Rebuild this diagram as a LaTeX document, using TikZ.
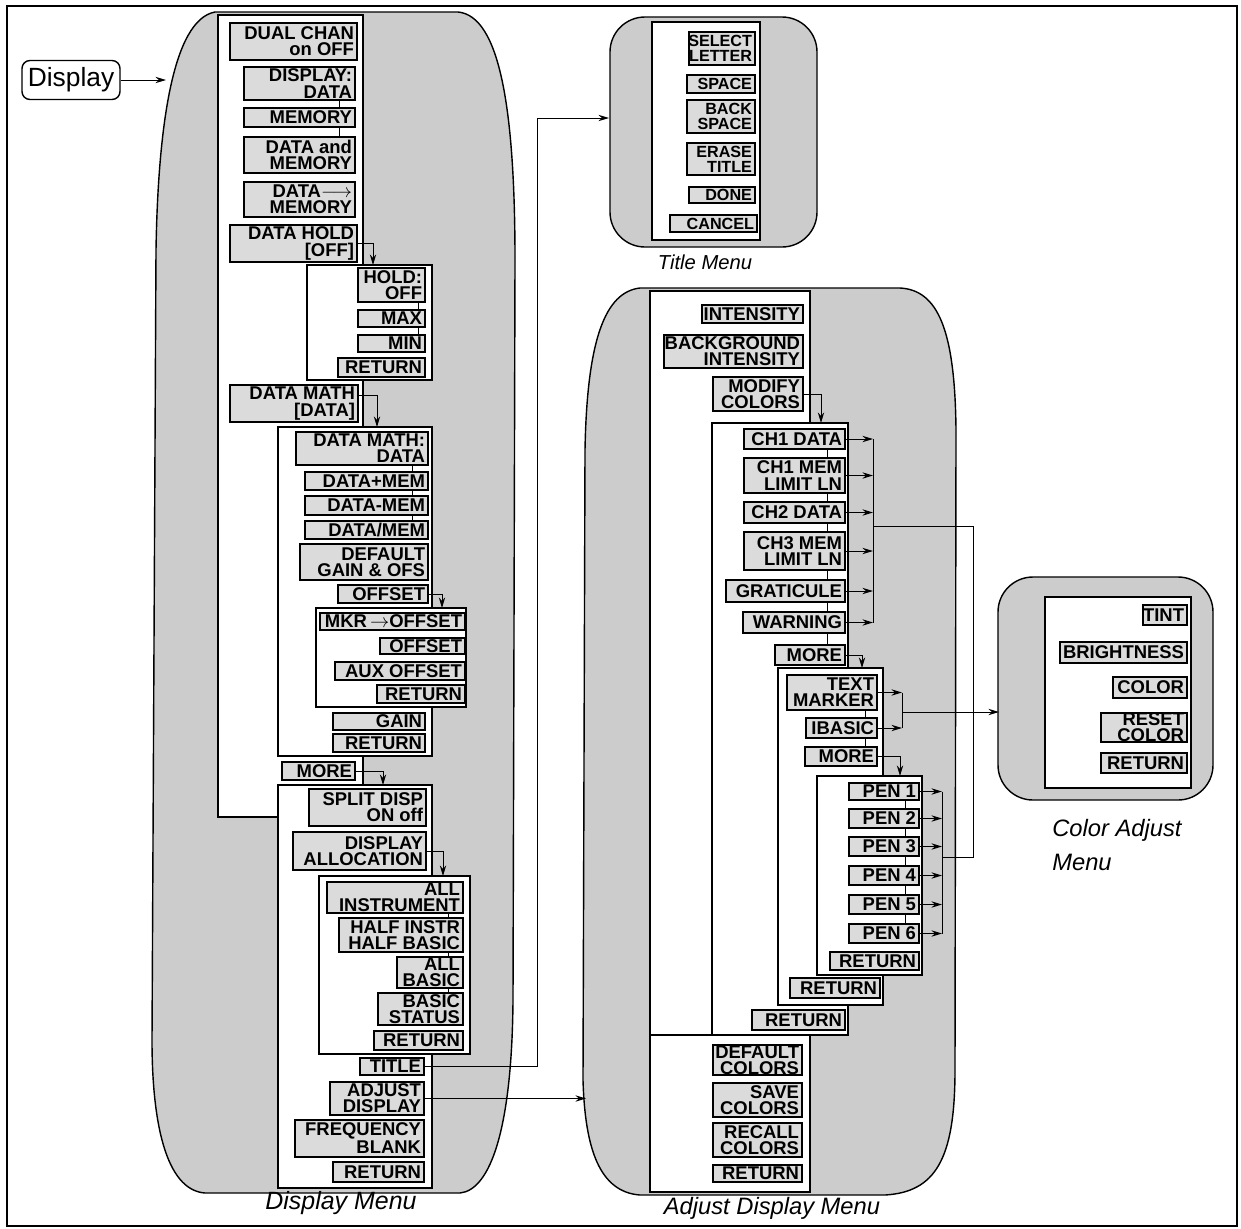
\documentclass[tikz,border=0pt]{standalone}
\usepackage{fontspec}
\setmainfont{Liberation Sans}
\usetikzlibrary{arrows.meta}
\definecolor{blobgray}{gray}{0.8}
\definecolor{boxgray}{gray}{0.86}
\tikzset{
  blob/.style={draw, fill=blobgray, line width=0.8pt},
  panel/.style={draw, fill=white, line width=0.6pt},
  btnbox/.style={draw, fill=boxgray, line width=0.9pt, inner sep=0pt, outer sep=0pt},
  btntext/.style={anchor=east, align=right, inner sep=1.5pt, font=\fontsize{10.5}{9.2}\selectfont\bfseries},
  conn/.style={line width=0.55pt},
  arr/.style={conn, -{Stealth[length=6pt,width=3.6pt]}},
  link/.style={line width=0.4pt},
  menulabel/.style={font=\fontsize{13.5}{14}\selectfont\itshape, inner sep=0pt},
}
\newcommand\mybtn[6]{%
  \node[btnbox, minimum width={(#4-#2)*0.02cm}, minimum height={(#5-#3)*0.02cm}] (#1) at ({(#2+#4)/2},{(#3+#5)/2}) {};
  \node[btntext] (#1t) at (#1.east) {#6};%
}
\begin{document}
\begin{tikzpicture}[x={(0.02cm,0)}, y={(0,-0.02cm)}]
\useasboundingbox (0,0) rectangle (1241,1228);
\draw[line width=0.6pt] (7,6) rectangle (1237,1226);

% ---------- blobs ----------
\path[blob] (215,12) -- (458,12) .. controls (500,16) and (515,110) .. (515,260)
  -- (513,1000) .. controls (512,1130) and (490,1190) .. (460,1193)
  -- (205,1193) .. controls (165,1190) and (152,1120) .. (152,1040)
  -- (156,250) .. controls (158,130) and (172,20) .. (215,12) -- cycle;
\path[blob] (640,288) -- (900,288) .. controls (938,290) and (955,330) .. (956,430)
  -- (955,1070) .. controls (955,1160) and (935,1192) .. (885,1195)
  -- (640,1195) .. controls (600,1192) and (585,1150) .. (583,1080)
  -- (585,450) .. controls (587,340) and (605,292) .. (640,288) -- cycle;
\node[blob, rounded corners=0.7cm, minimum width={207*0.02cm}, minimum height={230*0.02cm}, inner sep=0pt] (tblob) at (713.5,132) {};
\node[blob, rounded corners=0.7cm, minimum width={215*0.02cm}, minimum height={223*0.02cm}, inner sep=0pt] (cblob) at (1105.5,688.5) {};

% ---------- panels ----------
\draw[panel] (218,15) rectangle (363,817);
\draw[panel] (307,265) rectangle (432,380);
\draw[panel] (278,427) rectangle (432,756);
\draw[panel] (316,608) rectangle (466,707);
\draw[panel] (278,785) rectangle (432,1188);
\draw[panel] (319,876) rectangle (470,1054);
\draw[panel] (652,22) rectangle (760,240);
\draw[panel] (650,291) rectangle (810,1192);
\draw[panel] (712,423) rectangle (848,1035);
\draw[panel] (778,668) rectangle (883,1005);
\draw[panel] (817,776) rectangle (922,975);
\draw[panel] (1045,597) rectangle (1191,788);
\coordinate (pl) at (650,1035);
\coordinate (pr) at (712,1035);
\draw[line width=0.6pt] (pl) -- (pr);

% ---------- Display button ----------
\node[draw, fill=white, rounded corners=0.16cm, line width=0.8pt, minimum width={98*0.02cm}, minimum height={39*0.02cm}, inner sep=0pt, font=\fontsize{15}{15}\selectfont] (dispbtn) at (71,80) {Display};

% ---------- link line x positions ----------
\coordinate (l1) at (339,0);
\coordinate (l2) at (418,0);
\coordinate (l3) at (412,0);
\coordinate (l4) at (448,0);
\coordinate (l5) at (827,0);
\coordinate (l6) at (865,0);
\coordinate (l7) at (905,0);

% ---------- Display menu buttons ----------
\mybtn{dual}{230}{23}{357}{60}{DUAL CHAN\\on OFF}
\mybtn{dispdata}{244}{67}{355}{100}{DISPLAY:\\DATA}
\mybtn{memory}{244}{108}{355}{127}{MEMORY}
\mybtn{dandm}{244}{137}{355}{173}{DATA and\\MEMORY}
\mybtn{dtom}{244}{182}{355}{217}{DATA$\longrightarrow$\\MEMORY}
\mybtn{hold}{230}{225}{357}{262}{DATA HOLD\\{[OFF]}}
\mybtn{holdoff}{358}{268}{425}{302}{HOLD:\\OFF}
\mybtn{max}{358}{310}{425}{327}{MAX}
\mybtn{min}{358}{335}{425}{352}{MIN}
\mybtn{hret}{338}{358}{425}{377}{RETURN}
\mybtn{dmath}{230}{385}{358}{422}{DATA MATH\\{[DATA]}}
\mybtn{dmdata}{296}{432}{428}{465}{DATA MATH:\\DATA}
\mybtn{dpm}{305}{472}{428}{490}{DATA+MEM}
\mybtn{dmm}{305}{496}{428}{515}{DATA-MEM}
\mybtn{ddm}{305}{521}{428}{539}{DATA/MEM}
\mybtn{defgain}{300}{544}{428}{580}{DEFAULT\\GAIN \& OFS}
\mybtn{offset}{338}{585}{428}{603}{OFFSET}
\mybtn{mkroff}{320}{613}{465}{630}{MKR\,$\rightarrow$OFFSET}
\mybtn{offtwo}{380}{638}{465}{654}{OFFSET}
\mybtn{auxoff}{335}{662}{465}{680}{AUX OFFSET}
\mybtn{oret}{377}{685}{465}{703}{RETURN}
\mybtn{gain}{333}{713}{425}{730}{GAIN}
\mybtn{dmret}{333}{734}{425}{752}{RETURN}
\mybtn{moreone}{282}{762}{355}{780}{MORE}
\mybtn{split}{309}{789}{426}{826}{SPLIT DISP\\ON off}
\mybtn{alloc}{293}{832}{426}{870}{DISPLAY\\ALLOCATION}
\mybtn{allinst}{327}{882}{463}{913}{ALL\\INSTRUMENT}
\mybtn{half}{339}{918}{463}{952}{HALF INSTR\\HALF BASIC}
\mybtn{allbasic}{397}{957}{463}{988}{ALL\\BASIC}
\mybtn{bstatus}{378}{993}{463}{1025}{BASIC\\STATUS}
\mybtn{aret}{374}{1031}{463}{1050}{RETURN}
\mybtn{title}{360}{1058}{424}{1075}{TITLE}
\mybtn{adjust}{330}{1082}{424}{1115}{ADJUST\\DISPLAY}
\mybtn{freq}{295}{1120}{424}{1157}{FREQUENCY\\BLANK}
\mybtn{dret}{333}{1162}{424}{1182}{RETURN}

% ---------- Title menu buttons ----------
\begin{scope}[btntext/.append style={font=\fontsize{9.2}{8.4}\selectfont\bfseries}]
\mybtn{sellet}{689}{32}{755}{65}{SELECT\\LETTER}
\mybtn{space}{687}{75}{755}{93}{SPACE}
\mybtn{bspace}{687}{100}{755}{133}{BACK\\SPACE}
\mybtn{erase}{687}{143}{755}{175}{ERASE\\TITLE}
\mybtn{done}{689}{187}{755}{203}{DONE}
\mybtn{cancel}{670}{215}{757}{232}{CANCEL}
\end{scope}

% ---------- Adjust display buttons ----------
\mybtn{intens}{702}{305}{803}{323}{INTENSITY}
\mybtn{bgint}{664}{335}{803}{368}{BACKGROUND\\INTENSITY}
\mybtn{modify}{713}{377}{803}{411}{MODIFY\\COLORS}
\mybtn{cha}{744}{429}{845}{449}{CH1 DATA}
\mybtn{cham}{744}{458}{845}{493}{CH1 MEM\\LIMIT LN}
\mybtn{chb}{744}{502}{845}{523}{CH2 DATA}
\mybtn{chcm}{744}{532}{845}{570}{CH3 MEM\\LIMIT LN}
\mybtn{grat}{726}{580}{845}{602}{GRATICULE}
\mybtn{warn}{743}{612}{845}{633}{WARNING}
\mybtn{amore}{775}{645}{845}{665}{MORE}
\mybtn{tm}{787}{675}{877}{710}{TEXT\\MARKER}
\mybtn{ibasic}{806}{718}{877}{738}{IBASIC}
\mybtn{tmmore}{805}{747}{877}{766}{MORE}
\mybtn{pena}{849}{783}{919}{800}{PEN 1}
\mybtn{penb}{849}{809}{919}{828}{PEN 2}
\mybtn{penc}{849}{837}{919}{856}{PEN 3}
\mybtn{pend}{849}{866}{919}{885}{PEN 4}
\mybtn{pene}{849}{895}{919}{914}{PEN 5}
\mybtn{penf}{849}{924}{919}{943}{PEN 6}
\mybtn{pret}{830}{952}{919}{970}{RETURN}
\mybtn{tmret}{790}{978}{880}{998}{RETURN}
\mybtn{mret}{752}{1010}{845}{1030}{RETURN}
\mybtn{defcol}{713}{1045}{802}{1075}{DEFAULT\\COLORS}
\mybtn{savecol}{713}{1083}{802}{1117}{SAVE\\COLORS}
\mybtn{reccol}{713}{1123}{802}{1157}{RECALL\\COLORS}
\mybtn{adret}{713}{1165}{802}{1182}{RETURN}

% ---------- Color adjust buttons ----------
\mybtn{tint}{1143}{605}{1187}{625}{TINT}
\mybtn{bright}{1060}{642}{1187}{663}{BRIGHTNESS}
\mybtn{color}{1113}{677}{1187}{698}{COLOR}
\mybtn{reset}{1101}{713}{1187}{742}{RESET\\COLOR}
\mybtn{cret}{1101}{753}{1187}{773}{RETURN}

% ---------- link lines between grouped buttons ----------
\draw[link] (dispdata.south -| l1) -- (memory.north -| l1);
\draw[link] (memory.south -| l1) -- (dandm.north -| l1);
\draw[link] (holdoff.south -| l2) -- (max.north -| l2);
\draw[link] (max.south -| l2) -- (min.north -| l2);
\draw[link] (dmdata.south -| l3) -- (dpm.north -| l3);
\draw[link] (dpm.south -| l3) -- (dmm.north -| l3);
\draw[link] (dmm.south -| l3) -- (ddm.north -| l3);
\draw[link] (allinst.south -| l4) -- (half.north -| l4);
\draw[link] (half.south -| l4) -- (allbasic.north -| l4);
\draw[link] (allbasic.south -| l4) -- (bstatus.north -| l4);
\draw[link] (cha.south -| l5) -- (cham.north -| l5);
\draw[link] (cham.south -| l5) -- (chb.north -| l5);
\draw[link] (chb.south -| l5) -- (chcm.north -| l5);
\draw[link] (chcm.south -| l5) -- (grat.north -| l5);
\draw[link] (grat.south -| l5) -- (warn.north -| l5);
\draw[link] (warn.south -| l5) -- (amore.north -| l5);
\draw[link] (tm.south -| l6) -- (ibasic.north -| l6);
\draw[link] (ibasic.south -| l6) -- (tmmore.north -| l6);
\draw[link] (pena.south -| l7) -- (penb.north -| l7);
\draw[link] (penb.south -| l7) -- (penc.north -| l7);
\draw[link] (penc.south -| l7) -- (pend.north -| l7);
\draw[link] (pend.south -| l7) -- (pene.north -| l7);
\draw[link] (pene.south -| l7) -- (penf.north -| l7);

% ---------- connectors ----------
\coordinate (dispin) at (166,82);
\coordinate (holdin) at (373,265);
\coordinate (dmin) at (377,427);
\coordinate (offin) at (442,608);
\coordinate (morein) at (383,785);
\coordinate (allocin) at (443,876);
\coordinate (tx) at (537,118);
\coordinate (tin) at (609,118);
\coordinate (ain) at (586,0);
\coordinate (modin) at (821,423);
\coordinate (amorein) at (862,668);
\coordinate (tmmorein) at (900,776);
\coordinate (chbus) at (873,526);
\coordinate (rbusa) at (973,526);
\coordinate (rbusb) at (973,857);
\coordinate (penbus) at (942,857);
\coordinate (tmbus) at (902,712);
\coordinate (cin) at (999,712);

\draw[arr] (dispbtn.east) -- (dispbtn.east -| dispin);
\draw[arr] (hold.east) -| (holdin);
\draw[arr] ([yshift=0.16cm]dmath.east) -| (dmin);
\draw[arr] (offset.east) -| (offin);
\draw[arr] (moreone.east) -| (morein);
\draw[arr] (alloc.east) -| (allocin);
\draw[arr] (title.east) -| (tx) -- (tin);
\draw[arr] (adjust.east) -- (adjust.east -| ain);
\draw[arr] (modify.east) -| (modin);
\draw[arr] (amore.east) -| (amorein);
\draw[arr] (tmmore.east) -| (tmmorein);

\foreach \n in {cha,cham,chb,chcm,grat,warn}
  \draw[arr] (\n.east) -- (\n.east -| chbus);
\draw[conn] (cha.east -| chbus) -- (warn.east -| chbus);
\draw[conn] (chbus) -- (rbusa) -- (rbusb) -- (penbus);
\foreach \n in {pena,penb,penc,pend,pene,penf}
  \draw[arr] (\n.east) -- (\n.east -| penbus);
\draw[conn] (pena.east -| penbus) -- (penf.east -| penbus);
\draw[arr] (tm.east) -- (tm.east -| tmbus);
\draw[arr] (ibasic.east) -- (ibasic.east -| tmbus);
\draw[conn] (tm.east -| tmbus) -- (ibasic.east -| tmbus);
\draw[arr] (tmbus) -- (cin);

% ---------- labels ----------
\node[menulabel, font=\fontsize{14.2}{15}\selectfont\itshape] (dmlabel) at (341,1203) {Display Menu};
\node[menulabel, font=\fontsize{11.5}{12}\selectfont\itshape] (tmlabel) at (705,262) {Title Menu};
\node[menulabel] (admlabel) at (772,1208) {Adjust Display Menu};
\node[menulabel, anchor=west] (calabel) at (1052,830) {Color Adjust};
\node[menulabel, anchor=west] (cmlabel) at (1052,862) {Menu};
\end{tikzpicture}
\end{document}
